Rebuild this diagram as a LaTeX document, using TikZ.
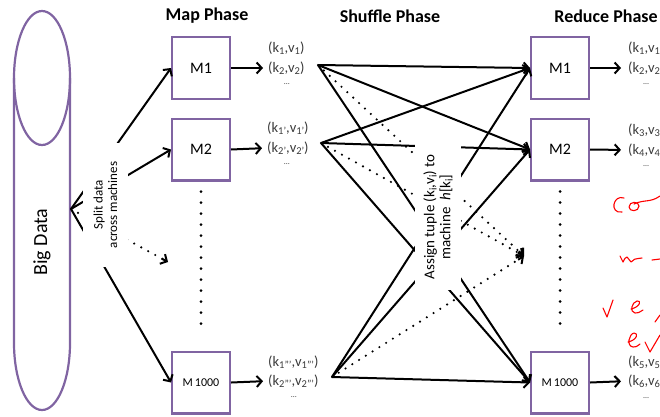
\documentclass[tikz,border=0pt]{standalone}
\usepackage{fontspec}
\setmainfont{Carlito}
\usetikzlibrary{arrows.meta,calc}
\definecolor{boxpurple}{HTML}{8064A2}
\definecolor{ink}{HTML}{3A3A3A}
% small lowered index digits, as in (k1,v1)
\newcommand\lo[1]{\raisebox{-0.3ex}{\fontsize{10.5}{11}\selectfont #1}}
\begin{document}
\begin{tikzpicture}[x=1pt,y=-1pt,
  mbox/.style={draw=boxpurple, line width=2.4pt, fill=white, minimum width=57.6pt,
    minimum height=61.6pt, inner sep=0pt, font=\fontsize{16}{18}\selectfont},
  arr/.style={line width=2pt, -{Straight Barb[length=5pt,width=11pt]}},
  dotline/.style={line width=2.4pt, line cap=round, dash pattern=on 0pt off 8pt},
  vdots/.style={line width=3pt, line cap=round, dash pattern=on 0pt off 11pt},
  tup/.style={inner sep=0pt, anchor=west, text=ink, font=\fontsize{14.5}{16}\selectfont},
  ell/.style={inner sep=0pt, text=ink, font=\fontsize{8}{9}\selectfont},
  title/.style={font=\bfseries\fontsize{18}{20}\selectfont},
  lbl/.style={fill=white, rotate=90, align=center, inner sep=0pt},
  scrib/.style={red, line width=1.1pt, line cap=round, line join=round}
]
\useasboundingbox (0,0) rectangle (660,416);
\clip (0,0) rectangle (660,416);

% the data store
\draw[boxpurple, line width=2.2pt] (14,78) -- (14,343)
  arc[start angle=180, end angle=0, x radius=28, y radius=67] -- (70,78);
\draw[boxpurple, line width=2.2pt] (42,78) ellipse[x radius=28, y radius=67];
\node[rotate=90, font=\fontsize{20}{22}\selectfont] (bigdata) at (42,242) {Big Data};

% phase titles
\node[title] (tmap) at (207,16) {Map Phase};
\node[title] (tshuf) at (390,16) {Shuffle Phase};
\node[title] (tred) at (606,16) {Reduce Phase};

% mappers
\node[mbox] (m1) at (201,68) {M1};
\node[mbox] (m2) at (201,149.5) {M2};
\node[mbox, font=\fontsize{12}{14}\selectfont] (m3) at (201,382.5) {M\,1000};
% reducers
\node[mbox] (r1) at (560,68) {M1};
\node[mbox] (r2) at (560,149.5) {M2};
\node[mbox, font=\fontsize{12}{14}\selectfont] (r3) at (560,382.5) {M\,1000};

\draw[vdots] ($(m2.south)+(0,10)$) -- ($(m3.north)+(0,-17)$);
\draw[vdots] ($(r2.south)+(0,10)$) -- ($(r3.north)+(0,-17)$);

% map outputs
\node[tup] (a1) at (268,48) {(k\lo1,v\lo1)};
\node[tup] (a2) at (268,68) {(k\lo2,v\lo2)};
\node[ell] (a3) at (287,84) {\ldots};
\node[tup] (b1) at (267,128) {(k\lo{1'},v\lo{1'})};
\node[tup] (b2) at (267,148) {(k\lo{2'},v\lo{2'})};
\node[ell] (b3) at (287,164) {\ldots};
\node[tup] (c1) at (268,362) {(k\lo{1'''},v\lo{1'''})};
\node[tup] (c2) at (268,381) {(k\lo{2'''},v\lo{2'''})};
\node[ell] (c3) at (294,397) {\ldots};
\draw[arr, shorten >=5pt] (m1.east) -- (a2.west);
\draw[arr, shorten >=5pt] (m2.east) -- (b2.west);
\draw[arr, shorten >=5pt] (m3.east) -- (c2.west);

% reduce outputs
\node[tup] (d1) at (628,48) {(k\lo1,v\lo1)};
\node[tup] (d2) at (628,68) {(k\lo2,v\lo2)};
\node[ell] (d3) at (646,84) {\ldots};
\node[tup] (e1) at (628,130) {(k\lo3,v\lo3)};
\node[tup] (e2) at (628,150) {(k\lo4,v\lo4)};
\node[ell] (e3) at (646,166) {\ldots};
\node[tup] (f1) at (628,362) {(k\lo5,v\lo5)};
\node[tup] (f2) at (628,381) {(k\lo6,v\lo6)};
\node[ell] (f3) at (646,398) {\ldots};
\draw[arr, shorten >=7pt] (r1.east) -- (d2.west);
\draw[arr, shorten >=7pt] (r2.east) -- (e2.west);
\draw[arr, shorten >=7pt] (r3.east) -- (f2.west);

% splitting the data
\coordinate (src) at (71,209);
\coordinate (gap) at (168,262);
\draw[arr] (src) -- (m1.west);
\draw[arr] (src) -- (m2.west);
\draw[arr] (src) -- (m3.west);
\draw[dotline, shorten >=4pt] (src) -- (gap);
\draw[arr] ($(gap)!7pt!(src)$) -- (gap);

% shuffling
\coordinate (s1) at (318,65);
\coordinate (s2) at (321,143);
\coordinate (s3) at (332,377);
\coordinate (rgap) at (524,256);
\foreach \s in {s1,s2,s3}{
  \draw[arr] (\s) -- (r1.west);
  \draw[arr] (\s) -- (r2.west);
  \draw[arr] (\s) -- (r3.west);
  \draw[dotline, shorten >=4pt] (\s) -- (rgap);
  \draw[arr] ($(rgap)!7pt!(\s)$) -- (rgap);
}

% labels over the connectors
\node[lbl, minimum width=124pt, minimum height=45pt, font=\fontsize{13}{14.5}\selectfont]
  (split) at (105.5,205) {Split data\\across machines};
\node[lbl, minimum width=146pt, minimum height=46pt, font=\fontsize{15}{16}\selectfont]
  (assign) at (438,217) {Assign tuple (k\lo{i},v\lo{i}) to\\machine \ \textit{h}[k\lo{i}]};

% handwritten notes
\draw[scrib] (624,198) .. controls (613,194) and (609,214) .. (622,212);
\draw[scrib] (629,207) .. controls (629,201) and (639,201) .. (639,206)
  .. controls (639,212) and (629,212) .. (629,207);
\draw[scrib] (634,204) .. controls (645,199) and (650,203) .. (660,196);
\draw[scrib] (620,256) .. controls (621,259) .. (623,262) .. controls (625,258) .. (627,257)
  .. controls (629,260) .. (631,262) .. controls (634,259) .. (642,258);
\draw[scrib] (652,260) -- (660,259);
\draw[scrib] (603,308) -- (607,317) -- (613,300);
\draw[scrib] (631,309) .. controls (640,307) and (642,300) .. (637,301)
  .. controls (632,302) and (629,312) .. (635,313) .. controls (638,313) .. (643,310);
\draw[scrib] (655,322) -- (660,315);
\draw[scrib] (628,342) .. controls (637,340) and (639,333) .. (634,333)
  .. controls (629,334) and (626,346) .. (633,347) .. controls (636,347) .. (640,344);
\draw[scrib] (645,342) -- (650,352) -- (660,335);
\end{tikzpicture}
\end{document}
